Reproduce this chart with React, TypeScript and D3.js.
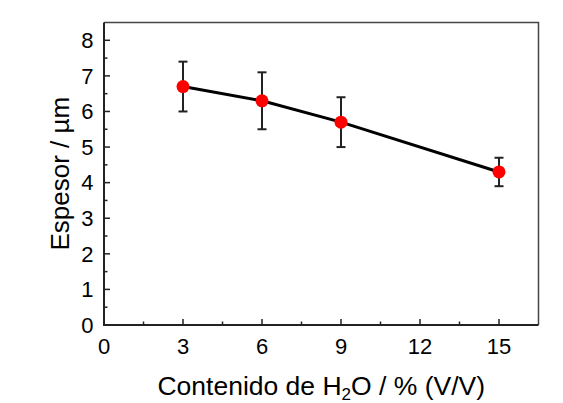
import React from "react";
import * as d3 from "d3";

const waterContent = [3, 6, 9, 15];
const thickness = [6.7, 6.3, 5.7, 4.3];
const errLow = [6.0, 5.5, 5.0, 3.9];
const errHigh = [7.4, 7.1, 6.4, 4.7];
const xTicks = [0, 3, 6, 9, 12, 15];
const yTicks = [0, 1, 2, 3, 4, 5, 6, 7, 8];

const W = 563, H = 403;
const L = 104, R = 538.5, T = 22.5, B = 325;

export default function App() {
  const x = d3.scaleLinear().domain([0, 16.5]).range([L, R]);
  const y = d3.scaleLinear().domain([0, 8.5]).range([B, T]);
  const line = d3.line<number>().x((d, i) => x(waterContent[i])).y((d) => y(d));
  const xMinor = d3.range(1.5, 16.5, 3);
  const yMinor = d3.range(0.5, 8.5, 1);
  const font = "Liberation Sans, Arial, sans-serif";
  return (
    <svg width={W} height={H} style={{ position: "absolute", left: 0, top: 0, background: "#fff" }}>
      <rect x={0} y={0} width={W} height={H} fill="#fff" />
      {/* frame */}
      <path d={`M${L},${T}H${R}V${B}`} fill="none" stroke="#444" strokeWidth={1.5} />
      <path d={`M${L},${T}V${B}H${R}`} fill="none" stroke="#222" strokeWidth={2} />
      {xTicks.map((t) => (
        <g key={"xt" + t}>
          <line x1={x(t)} x2={x(t)} y1={B} y2={B - 6} stroke="#222" strokeWidth={1.5} />
          <text x={x(t)} y={353.5} textAnchor="middle" fontFamily={font} fontSize={22} fill="#000">{t}</text>
        </g>
      ))}
      {xMinor.map((t) => (
        <line key={"xm" + t} x1={x(t)} x2={x(t)} y1={B} y2={B - 3.5} stroke="#222" strokeWidth={1.5} />
      ))}
      {yTicks.map((t) => (
        <g key={"yt" + t}>
          <line x1={L} x2={L + 6} y1={y(t)} y2={y(t)} stroke="#222" strokeWidth={1.5} />
          <text x={93.5} y={y(t) + 7.8} textAnchor="end" fontFamily={font} fontSize={22} fill="#000">{t}</text>
        </g>
      ))}
      {yMinor.map((t) => (
        <line key={"ym" + t} x1={L} x2={L + 3.5} y1={y(t)} y2={y(t)} stroke="#222" strokeWidth={1.5} />
      ))}
      {/* error bars */}
      {waterContent.map((c, i) => (
        <g key={"e" + i} stroke="#222" strokeWidth={2}>
          <line x1={x(c)} x2={x(c)} y1={y(errLow[i])} y2={y(errHigh[i])} />
          <line x1={x(c) - 4.5} x2={x(c) + 4.5} y1={y(errLow[i])} y2={y(errLow[i])} />
          <line x1={x(c) - 4.5} x2={x(c) + 4.5} y1={y(errHigh[i])} y2={y(errHigh[i])} />
        </g>
      ))}
      <path d={line(thickness) || ""} fill="none" stroke="#000" strokeWidth={3} />
      {waterContent.map((c, i) => (
        <circle key={"p" + i} cx={x(c)} cy={y(thickness[i])} r={6.5} fill="#ff0000" />
      ))}
      <text x={(L + R) / 2} y={394.5} textAnchor="middle" fontFamily={font} fontSize={26.5} fill="#000">
        Contenido de H<tspan fontSize={17} dy={5}>2</tspan><tspan dy={-5}>O / % (V/V)</tspan>
      </text>
      <text transform={`translate(68.5,${(T + B) / 2}) rotate(-90)`} textAnchor="middle" fontFamily={font} fontSize={26} fill="#000">
        Espesor / µm
      </text>
    </svg>
  );
}
